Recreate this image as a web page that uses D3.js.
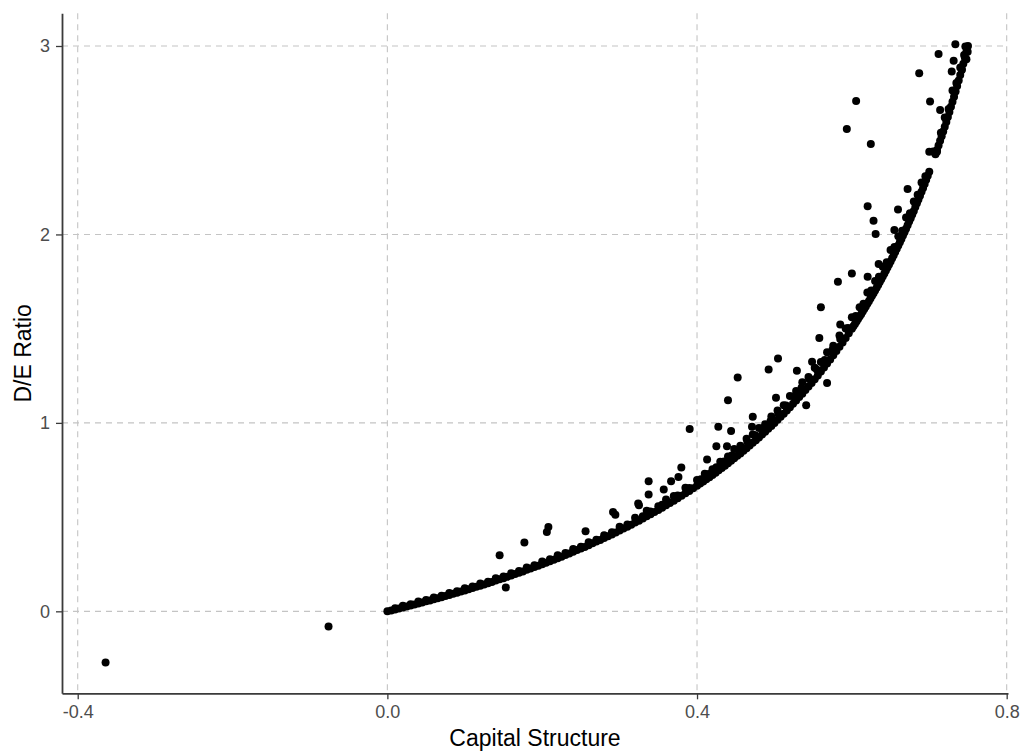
<!DOCTYPE html>
<html>
<head>
<meta charset="utf-8">
<script src="https://cdn.jsdelivr.net/npm/d3@7"></script>
<style>
  html, body { margin: 0; padding: 0; background: #ffffff; }
  svg { display: block; }
</style>
</head>
<body>
<svg id="chart" width="1022" height="751"></svg>
<script>
// ---- Data ----
const xTicks = [-0.4, 0.0, 0.4, 0.8];
const xTickLabels = ["-0.4", "0.0", "0.4", "0.8"];
const yTicks = [0, 1, 2, 3];
const yTickLabels = ["0", "1", "2", "3"];
const xTitle = "Capital Structure";
const yTitle = "D/E Ratio";

// main dense band of observations
const bandPoints = [
[0,0],[0.005,0.005],[0.01,0.010],[0.015,0.015],[0.02,0.020],[0.025,0.026],[0.03,0.031],[0.035,0.036],[0.04,0.042],[0.045,0.047],[0.05,0.053],[0.055,0.058],[0.06,0.064],[0.065,0.070],[0.07,0.075],[0.075,0.081],[0.08,0.087],[0.085,0.093],[0.09,0.099],[0.095,0.105],[0.1,0.111],[0.105,0.117],[0.11,0.124],[0.115,0.130],[0.12,0.136],[0.125,0.143],[0.13,0.149],[0.135,0.156],[0.14,0.163],[0.145,0.170],[0.15,0.176],[0.155,0.183],[0.16,0.190],[0.165,0.198],[0.17,0.205],[0.175,0.212],[0.18,0.220],[0.185,0.227],[0.19,0.235],[0.195,0.242],[0.2,0.250],[0.205,0.258],[0.21,0.266],[0.215,0.274],[0.22,0.282],[0.225,0.290],[0.23,0.299],[0.235,0.307],[0.24,0.316],[0.245,0.325],[0.25,0.333],[0.255,0.342],[0.26,0.351],[0.265,0.361],[0.27,0.370],[0.275,0.379],[0.28,0.389],[0.285,0.399],[0.29,0.408],[0.295,0.418],[0.3,0.429],[0.305,0.439],[0.31,0.449],[0.315,0.460],[0.32,0.471],[0.325,0.481],[0.33,0.493],[0.335,0.504],[0.34,0.515],[0.345,0.527],[0.35,0.538],[0.355,0.550],[0.36,0.563],[0.365,0.575],[0.37,0.587],[0.375,0.600],[0.38,0.613],[0.385,0.626],[0.39,0.639],[0.395,0.653],[0.4,0.667],
[0.404,0.678],[0.408,0.689],[0.412,0.701],[0.416,0.712],[0.42,0.724],[0.424,0.736],[0.428,0.748],[0.432,0.761],[0.436,0.773],[0.44,0.786],[0.444,0.799],[0.448,0.812],[0.452,0.825],[0.456,0.838],[0.46,0.852],[0.464,0.866],[0.468,0.880],[0.472,0.894],[0.476,0.908],[0.48,0.923],[0.484,0.938],[0.488,0.953],[0.492,0.969],[0.496,0.984],[0.5,1.000],[0.504,1.016],[0.508,1.033],[0.512,1.049],[0.516,1.066],[0.52,1.083],[0.524,1.101],[0.528,1.119],[0.532,1.137],[0.536,1.155],[0.54,1.174],[0.544,1.193],[0.548,1.212],[0.552,1.232],[0.556,1.252],[0.56,1.273],[0.564,1.294],[0.568,1.315],[0.572,1.336],[0.576,1.359],[0.58,1.381],[0.584,1.404],[0.588,1.427],[0.592,1.451],[0.596,1.475],[0.6,1.500],
[0.602,1.513],[0.604,1.525],[0.606,1.538],[0.608,1.551],[0.61,1.564],[0.612,1.577],[0.614,1.591],[0.616,1.604],[0.618,1.618],[0.62,1.632],[0.622,1.646],[0.624,1.660],[0.626,1.674],[0.628,1.688],[0.63,1.703],[0.632,1.717],[0.634,1.732],[0.636,1.747],[0.638,1.762],[0.64,1.778],[0.642,1.793],[0.644,1.809],[0.646,1.825],[0.648,1.841],[0.65,1.857],[0.652,1.874],[0.654,1.890],[0.656,1.907],[0.658,1.924],[0.66,1.941],[0.662,1.959],[0.664,1.976],[0.666,1.994],[0.668,2.012],[0.67,2.030],[0.672,2.049],[0.674,2.068],[0.676,2.086],[0.678,2.106],[0.68,2.125],[0.682,2.145],[0.684,2.165],[0.686,2.185],[0.688,2.205],[0.69,2.226],[0.692,2.247],[0.694,2.268],[0.696,2.290],[0.698,2.311],[0.7,2.333],[0.708,2.425],[0.71,2.448],[0.712,2.472],[0.714,2.497],[0.716,2.521],[0.718,2.546],[0.72,2.571],[0.722,2.597],[0.724,2.623],[0.726,2.650],[0.728,2.677],[0.73,2.704],[0.732,2.731],[0.734,2.759],[0.736,2.788],[0.738,2.817],[0.74,2.846],[0.742,2.876],[0.744,2.906],[0.746,2.937],[0.748,2.968],[0.75,3.000]
];

// points just above the band (thickening its upper edge)
const fringePoints = [
[0.02,0.030],[0.04,0.052],[0.06,0.074],[0.08,0.097],[0.10,0.123],[0.12,0.148],[0.14,0.175],[0.16,0.202],[0.18,0.232],[0.20,0.265],[0.22,0.297],[0.24,0.331],[0.26,0.366],[0.28,0.404],
[0.30,0.449],[0.32,0.496],[0.335,0.534],[0.35,0.558],[0.36,0.593],[0.37,0.612],[0.385,0.656],[0.40,0.697],[0.41,0.730],[0.42,0.754],[0.43,0.794],[0.44,0.821],[0.448,0.862],[0.456,0.878],[0.464,0.916],[0.472,0.939],[0.48,0.973],[0.488,0.993],[0.496,1.034],[0.504,1.066],[0.512,1.094],[0.52,1.143],[0.528,1.169],[0.536,1.215],[0.544,1.243],[0.552,1.292],[0.56,1.323],[0.568,1.375],[0.576,1.409],[0.584,1.464],[0.592,1.501],[0.60,1.560],[0.61,1.614],[0.62,1.692],[0.63,1.753],[0.64,1.828],[0.65,1.917],[0.66,1.991],[0.67,2.090],[0.68,2.175],[0.69,2.276],[0.72,2.621],[0.73,2.764],[0.74,2.886]
];

// second layer between band and fringe
const innerFringePoints = [
[0.01,0.016],[0.03,0.038],[0.05,0.060],[0.07,0.082],[0.09,0.107],[0.11,0.132],[0.13,0.157],[0.15,0.185],[0.17,0.214],[0.19,0.244],[0.21,0.276],[0.23,0.309],[0.25,0.343],[0.27,0.380],[0.29,0.419],[0.31,0.461],[0.33,0.505],[0.34,0.530],[0.355,0.565],[0.375,0.615],[0.39,0.654],
[0.405,0.701],[0.415,0.729],[0.425,0.764],[0.435,0.795],[0.445,0.827],[0.455,0.860],[0.465,0.899],[0.475,0.935],[0.485,0.972],[0.495,1.010],[0.505,1.050],[0.515,1.092],[0.525,1.140],[0.535,1.186],[0.545,1.233],[0.555,1.282],[0.565,1.334],[0.575,1.388],[0.585,1.445],[0.595,1.504],[0.605,1.567],[0.615,1.632],[0.625,1.702],[0.635,1.775],[0.645,1.852],[0.655,1.934],[0.665,2.020],[0.675,2.112],[0.685,2.210],[0.695,2.309],[0.715,2.539],[0.725,2.666],[0.735,2.804],[0.745,2.952]
];

// scattered observations away from the band
const outlierPoints = [
[-0.364,-0.271],[-0.076,-0.080],[0.145,0.297],[0.153,0.127],[0.177,0.365],[0.206,0.421],[0.208,0.448],[0.256,0.425],[0.2915,0.527],[0.2945,0.513],[0.324,0.572],[0.325,0.563],[0.3375,0.690],[0.3375,0.620],[0.357,0.646],[0.3665,0.690],[0.376,0.713],[0.3797,0.763],[0.3905,0.968],[0.413,0.806],[0.425,0.876],[0.4275,0.979],[0.4387,0.876],[0.440,1.120],[0.444,0.957],[0.4525,1.241],[0.471,0.979],[0.472,1.032],[0.4925,1.283],[0.502,1.133],[0.5046,1.342],[0.529,1.276],[0.541,1.094],[0.5486,1.324],[0.558,1.451],[0.560,1.613],[0.568,1.212],[0.582,1.749],[0.585,1.522],[0.5935,2.560],[0.6055,2.708],[0.600,1.793],[0.6204,1.775],[0.6204,2.149],[0.6245,2.480],[0.628,2.072],[0.6307,2.002],[0.6346,1.843],[0.6549,2.023],[0.6596,2.133],[0.672,2.241],[0.687,2.855],[0.701,2.705],[0.700,2.439],[0.705,2.440],[0.710,2.439],[0.712,2.958],[0.714,2.660],[0.729,2.864],[0.7315,2.922],[0.7337,3.009],[0.742,2.873],[0.7466,2.997],[0.7496,2.970],[0.748,2.930]
];

// ---- Drawing ----
const svg = d3.select("#chart");
svg.append("rect").attr("width", 1022).attr("height", 751).attr("fill", "#ffffff");

const panel = { left: 62, right: 1008, top: 13.3, bottom: 693.3 };
const x = d3.scaleLinear().domain([-0.4203, 0.8017]).range([panel.left, panel.right]);
const y = d3.scaleLinear().domain([-0.435, 3.1735]).range([panel.bottom, panel.top]);

const font = "'Liberation Sans', Arial, sans-serif";

// grid
const grid = svg.append("g");
grid.selectAll("line.vx").data(xTicks).enter().append("line")
  .attr("x1", d => x(d)).attr("x2", d => x(d))
  .attr("y1", panel.top).attr("y2", panel.bottom)
  .attr("stroke", "#c4c4c4").attr("stroke-width", 1.1).attr("stroke-dasharray", "6,5");
grid.selectAll("line.hy").data(yTicks).enter().append("line")
  .attr("x1", panel.left).attr("x2", panel.right)
  .attr("y1", d => y(d)).attr("y2", d => y(d))
  .attr("stroke", "#c4c4c4").attr("stroke-width", 1.1).attr("stroke-dasharray", "6,5");

// points
const allPoints = bandPoints.concat(innerFringePoints, fringePoints, outlierPoints);
svg.append("g").selectAll("circle").data(allPoints).enter().append("circle")
  .attr("cx", d => x(d[0])).attr("cy", d => y(d[1])).attr("r", 4)
  .attr("fill", "#000000");

// axes
const xAxis = d3.axisBottom(x).tickValues(xTicks)
  .tickFormat((d, i) => xTickLabels[i]).tickSizeInner(6).tickSizeOuter(0).tickPadding(6);
const yAxis = d3.axisLeft(y).tickValues(yTicks)
  .tickFormat((d, i) => yTickLabels[i]).tickSizeInner(6).tickSizeOuter(0).tickPadding(6);

const gx = svg.append("g").attr("transform", `translate(0,${panel.bottom})`).call(xAxis);
const gy = svg.append("g").attr("transform", `translate(${panel.left},0)`).call(yAxis);

[gx, gy].forEach(g => {
  g.select(".domain").attr("stroke", "#3a3a3a").attr("stroke-width", 1.8);
  g.selectAll(".tick line").attr("stroke", "#3a3a3a").attr("stroke-width", 1.3);
  g.selectAll(".tick text").attr("fill", "#4d4d4d")
    .style("font-family", font).style("font-size", "18px");
});

// titles
svg.append("text")
  .attr("x", (panel.left + panel.right) / 2).attr("y", 746)
  .attr("text-anchor", "middle")
  .style("font-family", font).style("font-size", "23px").attr("fill", "#000000")
  .text(xTitle);

svg.append("text")
  .attr("transform", `translate(31,${(panel.top + panel.bottom) / 2}) rotate(-90)`)
  .attr("text-anchor", "middle")
  .style("font-family", font).style("font-size", "23px").attr("fill", "#000000")
  .text(yTitle);
</script>
</body>
</html>
